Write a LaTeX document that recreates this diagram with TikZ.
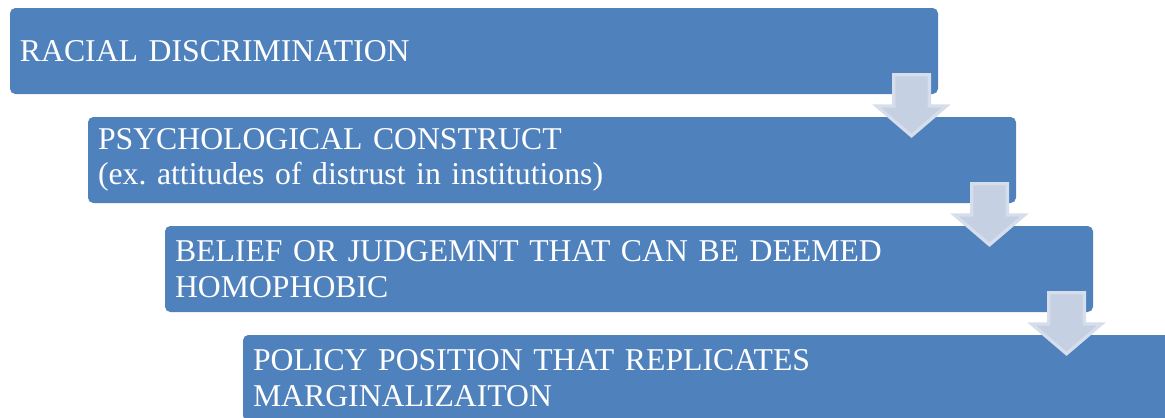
\documentclass[tikz,border=0pt]{standalone}
\usepackage{fontspec}
\setmainfont{Liberation Serif}
\usetikzlibrary{calc,positioning}
\definecolor{stageblue}{RGB}{79,129,189}
\definecolor{arrowfill}{RGB}{197,208,227}
\definecolor{arrowedge}{RGB}{214,221,235}
\tikzset{%
  stage/.style={fill=stageblue, rounded corners=4pt, text=white,
    font=\fontsize{23.8}{26.5}\selectfont\frenchspacing, align=left,
    text width=681pt, inner xsep=7.5pt, inner ysep=0pt,
    minimum height=64.5pt, outer sep=0pt},
  stagearrow/.style={fill=arrowfill, draw=arrowedge, line width=2.5pt, line join=miter}
}
\begin{document}
\begin{tikzpicture}
  \useasboundingbox (0,0) rectangle (873.75pt,-313.5pt);
  \node [stage, anchor=north west] (s1) at (7.5pt,-6pt) {RACIAL DISCRIMINATION};
  \node [stage, below=17.25pt of s1.south west, anchor=north west, xshift=58.5pt] (s2)
    {PSYCHOLOGICAL CONSTRUCT\\(ex. attitudes of distrust in institutions)};
  \node [stage, below=17.25pt of s2.south west, anchor=north west, xshift=57.75pt] (s3)
    {BELIEF OR JUDGEMNT THAT CAN BE DEEMED\\HOMOPHOBIC};
  \node [stage, below=17.25pt of s3.south west, anchor=north west, xshift=58.5pt] (s4)
    {POLICY POSITION THAT REPLICATES\\MARGINALIZAITON};
  % down arrows between the stages
  \foreach \i in {1,2,3}{%
    \draw [stagearrow] ($(s\i.south east)+(-33.25pt,14.5pt)$) -- ++(26.75pt,0)
      -- ++(0,-23.5pt) -- ++(12.75pt,0) -- ($(s\i.south east)+(-19.875pt,-31.3pt)$)
      -- ($(s\i.south east)+(-46pt,-9pt)$) -- ++(12.75pt,0) -- cycle;
  }
\end{tikzpicture}
\end{document}
